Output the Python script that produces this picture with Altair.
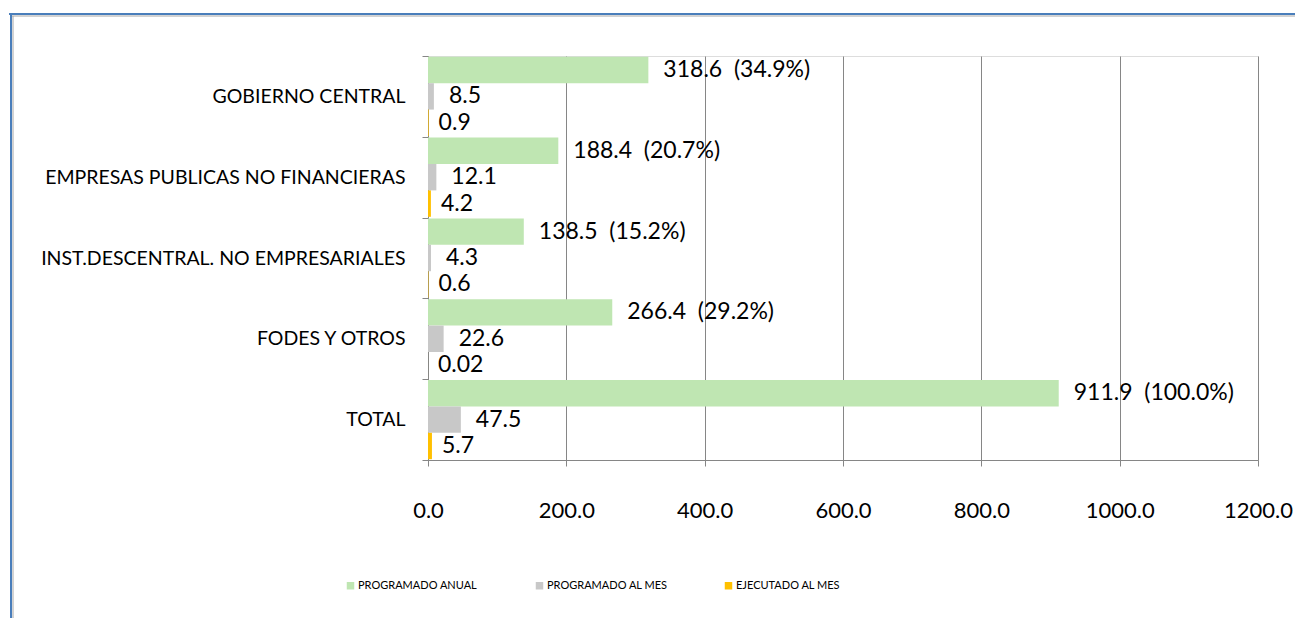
import altair as alt
import pandas as pd

categories = [
    "GOBIERNO CENTRAL",
    "EMPRESAS PUBLICAS NO FINANCIERAS",
    "INST.DESCENTRAL. NO EMPRESARIALES",
    "FODES Y OTROS",
    "TOTAL",
]
programado_anual = [318.6, 188.4, 138.5, 266.4, 911.9]
participacion = [34.9, 20.7, 15.2, 29.2, 100.0]
programado_mes = [8.5, 12.1, 4.3, 22.6, 47.5]
ejecutado_mes = [0.9, 4.2, 0.6, 0.02, 5.7]
ejecutado_labels = ["0.9", "4.2", "0.6", "0.02", "5.7"]
series = ["PROGRAMADO ANUAL", "PROGRAMADO AL MES", "EJECUTADO AL MES"]
colors = ["#bfe6b2", "#c8c8c8", "#ffc000"]
x_ticks = [0, 200, 400, 600, 800, 1000, 1200]

rows = []
for i, c in enumerate(categories):
    rows.append(dict(cat=c, serie=series[0], valor=programado_anual[i],
                     label=f"{programado_anual[i]:.1f}\u00a0 ({participacion[i]:.1f}%)"))
    rows.append(dict(cat=c, serie=series[1], valor=programado_mes[i],
                     label=f"{programado_mes[i]:.1f}"))
    rows.append(dict(cat=c, serie=series[2], valor=ejecutado_mes[i],
                     label=ejecutado_labels[i]))
df = pd.DataFrame(rows)

FONT = "Lato"
GRID = "#868686"

x_enc = alt.X(
    "valor:Q",
    scale=alt.Scale(domain=[0, 1200], nice=False),
    axis=alt.Axis(values=x_ticks, format=".1f", grid=True, gridColor=GRID,
                  domainColor=GRID, tickColor=GRID, tickSize=6, labelPadding=34,
                  labelFlush=False, labelOverlap=False, labelBound=False,
                  labelFontSize=22, labelFont=FONT, labelColor="black", title=None),
)
y_enc = alt.Y(
    "cat:N", sort=categories,
    scale=alt.Scale(paddingInner=0, paddingOuter=0),
    axis=alt.Axis(tickBand="extent", tickSize=6, tickColor=GRID, domainColor=GRID,
                  labelPadding=17, labelFontSize=19.5, labelFont=FONT, labelColor="black",
                  labelLimit=600, grid=False, title=None),
)
yoff_enc = alt.YOffset("serie:N", sort=series,
                       scale=alt.Scale(paddingInner=0, paddingOuter=0.03))

base = alt.Chart(df)

bars = base.mark_bar().encode(
    x=x_enc, y=y_enc, yOffset=yoff_enc,
    color=alt.Color(
        "serie:N", sort=series,
        scale=alt.Scale(domain=series, range=colors),
        legend=alt.Legend(orient="none", legendX=-83, legendY=524, direction="horizontal",
                          title=None, symbolType="square", symbolSize=56,
                          symbolStrokeWidth=0, labelFontSize=11, labelFont=FONT,
                          labelColor="black", columnPadding=55, gridAlign="all",
                          labelOffset=2),
    ),
)

dx_map = [15, 15, 10]
texts = []
for s, dx in zip(series, dx_map):
    texts.append(
        base.transform_filter(alt.datum.serie == s)
        .mark_text(align="left", baseline="middle", dx=dx, fontSize=23, font=FONT, color="black")
        .encode(x=x_enc, y=y_enc, yOffset=yoff_enc, text="label:N")
    )

frame_df = pd.DataFrame({"f": [0]})
top_blue = alt.Chart(frame_df).mark_rule(color="#4a7ebb", strokeWidth=2).encode(
    x=alt.value(-419), x2=alt.value(880), y=alt.value(-42))
top_gray = alt.Chart(frame_df).mark_rule(color="#a6a6a6", strokeWidth=1).encode(
    x=alt.value(-416), x2=alt.value(880), y=alt.value(-40))
left_blue = alt.Chart(frame_df).mark_rule(color="#4a7ebb", strokeWidth=2).encode(
    x=alt.value(-417), y=alt.value(-43), y2=alt.value(620))
left_gray = alt.Chart(frame_df).mark_rule(color="#a6a6a6", strokeWidth=1).encode(
    x=alt.value(-415), y=alt.value(-40), y2=alt.value(620))

chart = alt.layer(bars, *texts, top_blue, top_gray, left_blue, left_gray).properties(
    width=830, height=404,
    autosize=alt.AutoSizeParams(type="none"),
    padding={"left": 420, "top": 48, "right": 37, "bottom": 158},
).configure_view(stroke=None).configure(background="white")

chart.save("out.html", embed_options={"renderer": "svg", "actions": False})
